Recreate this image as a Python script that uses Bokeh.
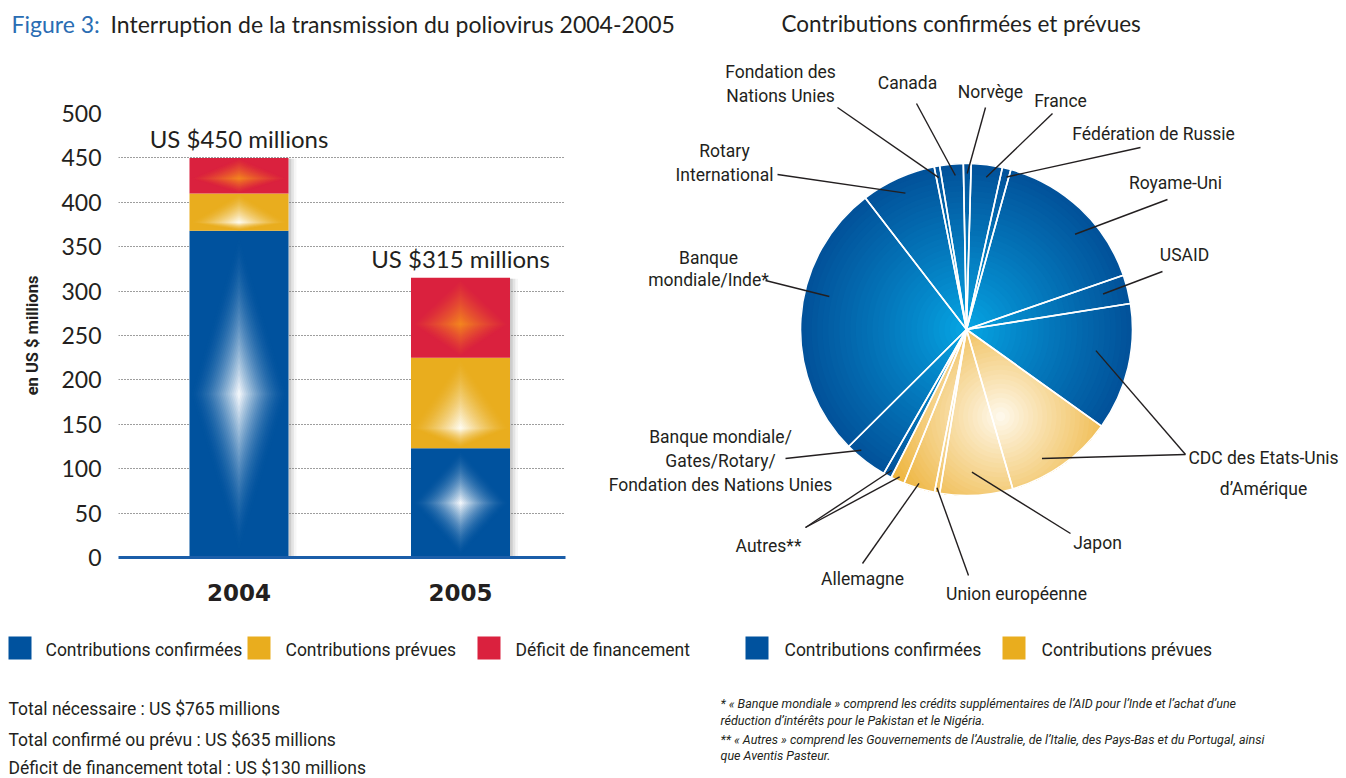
import numpy as np
from bokeh.plotting import figure
from bokeh.models import Range1d, FixedTicker, ColumnDataSource
from bokeh.layouts import column, row
from bokeh.embed import file_html
from bokeh.resources import INLINE
from bokeh.core.properties import value

# ---------------- data ----------------
years = [2004, 2005]
confirmed = [368, 123]
planned = [42, 102]
shortfall = [40, 90]
y_ticks = [0, 50, 100, 150, 200, 250, 300, 350, 400, 450, 500]

pie_names = ["Norvège", "France", "Fédération de Russie", "Royaume-Uni", "USAID",
             "CDC (confirmé)", "CDC (prévu)", "Japon", "Union européenne", "Allemagne",
             "Autres (prévu)", "Autres (confirmé)", "Banque mondiale/Gates/Rotary/FNU",
             "Banque mondiale/Inde", "Rotary International", "Fondation des Nations Unies",
             "Canada"]
pie_values = [4.8, 19.2, 5.3, 97.7, 17.8, 78.7, 67.4, 45.0, 3.2, 19.4, 8.6, 5.1, 27.0,
              171.6, 46.4, 3.4, 14.5]
pie_status = ["c", "c", "c", "c", "c", "c", "p", "p", "p", "p", "p", "c", "c", "c", "c",
              "c", "c"]

title_left_a = "Figure 3:"
title_left_b = "Interruption de la transmission du poliovirus 2004-2005"
title_right = "Contributions confirmées et prévues"
legend_bar_labels = ["Contributions confirmées", "Contributions prévues", "Déficit de financement"]
legend_pie_labels = ["Contributions confirmées", "Contributions prévues"]
total_lines = ["Total nécessaire : US $765 millions",
               "Total confirmé ou prévu : US $635 millions",
               "Déficit de financement total : US $130 millions"]
footnotes = ["* « Banque mondiale » comprend  les crédits supplémentaires de l’AID pour l’Inde et l’achat d’une",
             "réduction d’intérêts pour le Pakistan et le Nigéria.",
             "** « Autres » comprend  les Gouvernements de l’Australie, de l’Italie, des Pays-Bas et du Portugal, ainsi",
             "que Aventis Pasteur."]

# ---------------- style ----------------
MAIN = "Lato"
COND = "Roboto"
INK = "#231f20"
BLUE = (0, 82, 158)
YELLOW = (233, 173, 30)
RED = (218, 33, 62)

def hexc(c):
    return "#%02x%02x%02x" % tuple(int(round(max(0, min(255, v)))) for v in c)

def mix(a, b, t):
    return tuple(a[i] + (b[i] - a[i]) * t for i in range(3))

def canvas(w, h, xr, yr):
    f = figure(width=w, height=h, x_range=xr, y_range=yr, title=None, toolbar_location=None,
               output_backend="svg", x_axis_location=None, y_axis_location=None,
               outline_line_color=None, min_border=0)
    f.frame_align = False
    f.xgrid.visible = False
    f.ygrid.visible = False
    return f

# ---------------- bar chart ----------------
bar = figure(width=600, height=570, x_range=Range1d(2003.456, 2005.474), y_range=Range1d(0, 500),
             title=None, toolbar_location=None, output_backend="svg", outline_line_color=None,
             min_border_left=118, min_border_right=35, min_border_top=63, min_border_bottom=63)
bar.frame_align = False
bar.xgrid.visible = False
bar.ygrid.grid_line_color = "#3c3c3c"
bar.ygrid.grid_line_dash = "1 2"
bar.ygrid.grid_line_width = 1
bar.yaxis.ticker = FixedTicker(ticks=y_ticks)
bar.xaxis.ticker = FixedTicker(ticks=years)
bar.yaxis.axis_line_color = None
bar.yaxis.major_tick_line_color = None
bar.yaxis.minor_tick_line_color = None
bar.yaxis.major_label_text_font = MAIN
bar.yaxis.major_label_text_font_size = "23px"
bar.yaxis.major_label_text_color = INK
bar.yaxis.major_label_standoff = 11
bar.yaxis.axis_label = "en US $ millions"
bar.yaxis.axis_label_text_font = COND
bar.yaxis.axis_label_text_font_style = "bold"
bar.yaxis.axis_label_text_font_size = "16.5px"
bar.yaxis.axis_label_text_color = INK
bar.yaxis.axis_label_standoff = 16
bar.xaxis.axis_line_color = "#1b5ea9"
bar.xaxis.axis_line_width = 3
bar.xaxis.major_tick_line_color = None
bar.xaxis.minor_tick_line_color = None
bar.xaxis.major_label_text_font = "DejaVu Sans"
bar.xaxis.major_label_text_font_style = "bold"
bar.xaxis.major_label_text_font_size = "23px"
bar.xaxis.major_label_text_color = INK
bar.xaxis.major_label_standoff = 20

bw = 0.447
tops = [c + p + s for c, p, s in zip(confirmed, planned, shortfall)]
# soft shadow on the right side of each bar
for k, a in enumerate([0.22, 0.14, 0.07]):
    bar.quad(left=[x + bw / 2 for x in years], right=[x + bw / 2 + 0.012 * (k + 1) for x in years],
             bottom=[0] * 2, top=[t - 1 for t in tops], fill_color="#7a7a7a", fill_alpha=a,
             line_color=None)

series = [(confirmed, BLUE, (255, 255, 255), 0.5, 1.7),
          (planned, YELLOW, (255, 255, 250), 0.22, 1.5),
          (shortfall, RED, (244, 136, 30), 0.42, 1.3)]
bottom = [0, 0]
for vals, base, glow, cfrac, gam in series:
    tp = [b + v for b, v in zip(bottom, vals)]
    bar.vbar(x=years, bottom=bottom, top=tp, width=bw, fill_color=hexc(base), line_color=None)
    xs, ys, cols = [], [], []
    N = 26
    for x, y0, y1 in zip(years, bottom, tp):
        yc = y0 + cfrac * (y1 - y0)
        for k in range(1, N):
            t = 1 - k / N
            xs.append([x - t * bw / 2, x, x + t * bw / 2, x])
            ys.append([yc, yc + t * (y1 - yc), yc, yc - t * (yc - y0)])
            cols.append(hexc(mix(base, glow, (1 - t) ** gam)))
    bar.patches(xs=xs, ys=ys, fill_color=cols, line_color=None)
    bottom = tp

bar.text(x=years, y=tops, text=["US $%d millions" % t for t in tops], text_align="center",
         text_baseline="middle", y_offset=-19, text_font=value(MAIN), text_font_size="24px",
         text_color=INK)

# ---------------- pie chart ----------------
PCX, PCY = 966.0, 329.0      # page position of pie centre
R = 166.0
START_BEARING = -1.1

def P(px, py):
    return px - PCX, PCY - py

pie = canvas(746, 570, Range1d(600 - PCX, 1346 - PCX), Range1d(PCY - 620, PCY - 50))

vals = np.array(pie_values, dtype=float)
cum = np.concatenate([[0.0], np.cumsum(vals)])
b0 = START_BEARING + 360.0 * cum[:-1] / cum[-1]
b1 = START_BEARING + 360.0 * cum[1:] / cum[-1]
th_s = np.radians(90.0 - b1)
th_e = np.radians(90.0 - b0)
base_cols = [hexc((10, 90, 160)) if s == "c" else hexc((236, 175, 45)) for s in pie_status]
src = ColumnDataSource(dict(name=pie_names, value=pie_values, start=th_s, end=th_e, color=base_cols))
pie.wedge(x=0, y=0, radius=R, start_angle="start", end_angle="end", direction="anticlock",
          fill_color="color", line_color=None, source=src)

def sector_poly(a0, a1, r, n=None):
    if n is None:
        n = max(3, int(np.degrees(a1 - a0) * 1.0) + 2)
    ang = np.linspace(a0, a1, n)
    return [(0.0, 0.0)] + [(r * np.cos(a), r * np.sin(a)) for a in ang]

def clip(subject, clipper):
    out = list(subject)
    m = len(clipper)
    for i in range(m):
        if not out:
            break
        ax, ay = clipper[i]
        bx, by = clipper[(i + 1) % m]
        ex, ey = bx - ax, by - ay
        def cr(p):
            return ex * (p[1] - ay) - ey * (p[0] - ax)
        inp = out
        out = []
        s = inp[-1]
        cs = cr(s)
        for e in inp:
            ce = cr(e)
            if ce >= 0:
                if cs < 0:
                    t = cs / (cs - ce)
                    out.append((s[0] + t * (e[0] - s[0]), s[1] + t * (e[1] - s[1])))
                out.append(e)
            elif cs >= 0:
                t = cs / (cs - ce)
                out.append((s[0] + t * (e[0] - s[0]), s[1] + t * (e[1] - s[1])))
            s, cs = e, ce
    return out

BLUE_EDGE = (2, 82, 154)
BLUE_CTR = (6, 170, 232)
YEL_EDGE = (236, 172, 40)
YEL_CTR = (255, 252, 244)
GLOW = P(1000, 416)
RG = 140.0
NL = 30
gx, gy, gc = [], [], []
for k in range(NL):
    s = 1 - k / NL
    for i, st in enumerate(pie_status):
        if st == "c":
            poly = sector_poly(th_s[i], th_e[i], s * R)
            col = hexc(mix(BLUE_CTR, BLUE_EDGE, s ** 0.85))
        else:
            phi = np.linspace(0, 2 * np.pi, 200, endpoint=False)
            disk = [(GLOW[0] + s * RG * np.cos(a), GLOW[1] + s * RG * np.sin(a)) for a in phi]
            poly = clip(disk, sector_poly(th_s[i], th_e[i], R))
            col = hexc(mix(YEL_CTR, YEL_EDGE, s ** 0.9))
        if len(poly) >= 3:
            gx.append([p[0] for p in poly])
            gy.append([p[1] for p in poly])
            gc.append(col)
pie.patches(xs=gx, ys=gy, fill_color=gc, line_color=None)
pie.wedge(x=0, y=0, radius=R, start_angle="start", end_angle="end", direction="anticlock",
          fill_color=None, line_color="white", line_width=1.6, source=src)

# label lines: text, centre x, vertical middle (page px), leader start, targets in slices
PIE_LABELS = [
    (["Fondation des", "Nations Unies"], 780, [71.5, 95], (837, 107), [(15, 0.47, 0.93)]),
    (["Canada"], 907, [82], (916, 103), [(16, 0.63, 0.93)]),
    (["Norvège"], 990, [91], (985, 107), [(0, 0.5, 0.94)]),
    (["France"], 1060, [100], (1052, 113), [(1, 0.53, 0.925)]),
    (["Fédération de Russie"], 1153, [133.5], (1140, 147), [(2, 0.73, 0.95)]),
    (["Royame-Uni"], 1175, [182.5], (1167, 199), [(3, 0.6, 0.87)]),
    (["USAID"], 1184, [254.5], (1162, 271), [(4, 0.45, 0.85)]),
    (["CDC des Etats-Unis", "d’Amérique"], 1263, [457, 488], (1185, 454),
     [(5, 0.41, 0.79), (6, 0.63, 0.9)]),
    (["Japon"], 1097, [542.5], (1070, 533), [(7, 0.55, 0.86)]),
    (["Union européenne"], 1016, [593.5], (968, 575), [(8, 0.7, 0.97)]),
    (["Allemagne"], 862, [578], (862, 563), [(9, 0.55, 0.97)]),
    (["Autres**"], 768, [545.5], (805, 527), [(11, 0.35, 0.96), (10, 0.47, 0.975)]),
    (["Banque mondiale/", "Gates/Rotary/", "Fondation des Nations Unies"], 720, [436, 460, 484],
     (785, 458), [(12, 0.73, 0.965)]),
    (["Banque", "mondiale/Inde*"], 708, [257, 279], (765, 280), [(13, 0.6, 0.85)]),
    (["Rotary", "International"], 724, [150.5, 174.5], (777, 174), [(14, 0.51, 0.9)]),
]
lx, ly, lt = [], [], []
sx0, sy0, sx1, sy1 = [], [], [], []
for lines, cx, mids, start, targets in PIE_LABELS:
    for txt, my in zip(lines, mids):
        x, y = P(cx, my)
        lx.append(x); ly.append(y); lt.append(txt)
    for idx, fr, rf in targets:
        brg = np.radians(b0[idx] + fr * (b1[idx] - b0[idx]))
        x0, y0 = P(*start)
        sx0.append(x0); sy0.append(y0)
        sx1.append(rf * R * np.sin(brg)); sy1.append(rf * R * np.cos(brg))
pie.segment(x0=sx0, y0=sy0, x1=sx1, y1=sy1, line_color=INK, line_width=1.4)
pie.text(x=lx, y=ly, text=lt, text_align="center", text_baseline="middle",
         text_font=value(COND), text_font_size="17.5px", text_color=INK)

# ---------------- title strip ----------------
top = canvas(1346, 50, Range1d(0, 1346), Range1d(50, 0))
top.text(x=[11], y=[23], text=[title_left_a], text_font=value(MAIN), text_font_size="23px",
         text_color="#2a6db3", text_baseline="middle")
top.text(x=[110], y=[23], text=[title_left_b], text_font=value(MAIN),
         text_font_size="23px", text_color=INK, text_baseline="middle")
top.text(x=[781], y=[23], text=[title_right], text_font=value(MAIN),
         text_font_size="22.5px", text_color=INK, text_baseline="middle")

# ---------------- bottom strip ----------------
bot = canvas(1346, 158, Range1d(0, 1346), Range1d(778, 620))
sw_left = [8, 247, 477, 745, 1002]
sw_cols = [hexc(BLUE), hexc(YELLOW), hexc(RED), hexc(BLUE), hexc(YELLOW)]
bot.quad(left=sw_left, right=[l + 23 for l in sw_left], top=[636] * 5, bottom=[659] * 5,
         fill_color=sw_cols, line_color=None)
bot.text(x=[45, 285, 515, 784, 1041], y=[649.5] * 5, text=legend_bar_labels + legend_pie_labels,
         text_font=value(COND), text_font_size="17.5px", text_color=INK, text_baseline="middle")
bot.text(x=[8] * 3, y=[708.5, 739, 767.5], text=total_lines, text_font=value(COND),
         text_font_size="17.5px", text_color=INK, text_baseline="middle")
bot.text(x=[720] * 4, y=[703, 719.5, 738.5, 755], text=footnotes, text_font=value(COND),
         text_font_style="italic", text_font_size="12.5px", text_color=INK,
         text_baseline="middle")

layout = column(top, row(bar, pie), bot)
open("out.html", "w").write(file_html(layout, INLINE))
